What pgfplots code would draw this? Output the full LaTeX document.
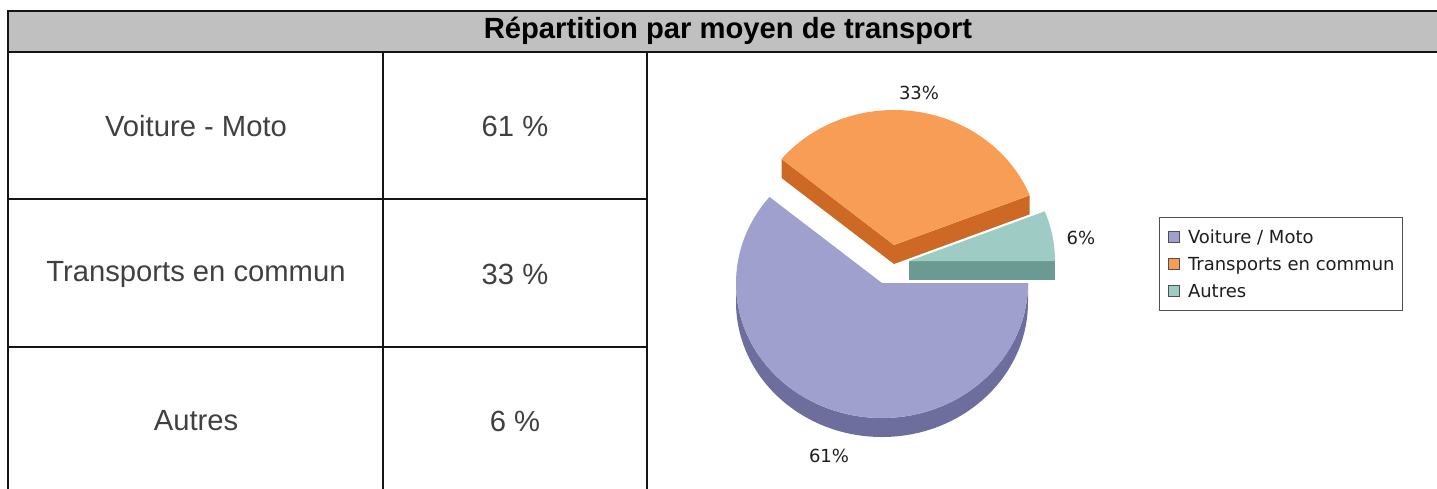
\documentclass[border=0pt]{standalone}
\usepackage{pgfplots}
\pgfplotsset{compat=1.18}
\usepackage{pgfplotstable}
\usepackage{fontspec}
\setmainfont{Liberation Sans}
\newfontfamily\piefont{DejaVu Sans}

\definecolor{titlegray}{RGB}{192,192,192}
\definecolor{rulecol}{RGB}{20,20,20}
\definecolor{celltext}{RGB}{64,64,64}
\definecolor{lavtop}{RGB}{160,160,206}
\definecolor{lavside}{RGB}{110,110,158}
\definecolor{orgtop}{RGB}{248,157,86}
\definecolor{orgside}{RGB}{205,105,37}
\definecolor{teatop}{RGB}{158,203,195}
\definecolor{teaside}{RGB}{107,154,147}
\definecolor{legline}{RGB}{80,80,80}
\definecolor{pietext}{RGB}{30,30,30}

% parts of the pie: value in %, explode offset (px), label position (px)
\pgfplotstableread{
label value dx dy lx ly
Voiture 61 0 0 829 456
Transports 33 12 -38 919 93
Autres 6 27 -22 1081 238
}\piedata

\pgfplotstablegetelem{0}{value}\of\piedata \pgfmathtruncatemacro\va{\pgfplotsretval}
\pgfplotstablegetelem{1}{value}\of\piedata \pgfmathtruncatemacro\vb{\pgfplotsretval}
\pgfplotstablegetelem{2}{value}\of\piedata \pgfmathtruncatemacro\vc{\pgfplotsretval}
\pgfplotstablegetelem{1}{dx}\of\piedata \pgfmathsetmacro\dxb{\pgfplotsretval}
\pgfplotstablegetelem{1}{dy}\of\piedata \pgfmathsetmacro\dyb{\pgfplotsretval}
\pgfplotstablegetelem{2}{dx}\of\piedata \pgfmathsetmacro\dxc{\pgfplotsretval}
\pgfplotstablegetelem{2}{dy}\of\piedata \pgfmathsetmacro\dyc{\pgfplotsretval}
\pgfplotstablegetelem{0}{lx}\of\piedata \pgfmathsetmacro\lxa{\pgfplotsretval}
\pgfplotstablegetelem{0}{ly}\of\piedata \pgfmathsetmacro\lya{\pgfplotsretval}
\pgfplotstablegetelem{1}{lx}\of\piedata \pgfmathsetmacro\lxb{\pgfplotsretval}
\pgfplotstablegetelem{1}{ly}\of\piedata \pgfmathsetmacro\lyb{\pgfplotsretval}
\pgfplotstablegetelem{2}{lx}\of\piedata \pgfmathsetmacro\lxc{\pgfplotsretval}
\pgfplotstablegetelem{2}{ly}\of\piedata \pgfmathsetmacro\lyc{\pgfplotsretval}
% angles, clockwise from east
\pgfmathsetmacro\aA{0}
\pgfmathsetmacro\aB{\aA-3.6*\va}
\pgfmathsetmacro\aC{\aB-3.6*\vb}
\pgfmathsetmacro\aD{\aC-3.6*\vc}
\def\cx{882}\def\cy{283}
\pgfmathsetmacro\cxb{\cx+\dxb}\pgfmathsetmacro\cyb{\cy+\dyb}
\pgfmathsetmacro\cxc{\cx+\dxc}\pgfmathsetmacro\cyc{\cy+\dyc}
\def\dep{9.5pt}
\tikzset{pie/.style={x radius=73pt, y radius=67.5pt}}

\begin{document}
\begin{tikzpicture}
\begin{axis}[
    at={(0,0)}, anchor=north west,
    scale only axis, width=718.5pt, height=244pt,
    xmin=0, xmax=1437, ymin=0, ymax=488, y dir=reverse,
    hide axis, clip=false,
    legend cell align=left,
    legend style={at={(axis cs:1159,217)}, anchor=north west,
        draw=legline, line width=0.5pt, fill=white,
        font=\piefont\fontsize{9}{10}\selectfont, text=pietext,
        inner xsep=4pt, inner ysep=6.3pt, row sep=7pt,
        nodes={inner sep=0pt, anchor=west, text height=6.6pt, text depth=0pt}},
    legend image code/.code={
        \draw[#1, draw=legline, line width=0.5pt] (0pt,-2.75pt) rectangle (5.5pt,2.75pt);
        \path (9.75pt,0pt);}
]
% table
\fill[titlegray] (axis cs:8,11) rectangle (axis cs:1445,52);
\draw[rulecol, line width=1pt] (axis cs:8,500) -- (axis cs:8,11) -- (axis cs:1445,11);
\draw[rulecol, line width=1pt] (axis cs:8,52) -- (axis cs:1445,52);
\draw[rulecol, line width=1pt] (axis cs:383,52) -- (axis cs:383,500);
\draw[rulecol, line width=1pt] (axis cs:647,52) -- (axis cs:647,500);
\draw[rulecol, line width=1pt] (axis cs:8,199) -- (axis cs:647,199);
\draw[rulecol, line width=1pt] (axis cs:8,347) -- (axis cs:647,347);
\node[font=\bfseries\fontsize{14.6}{17}\selectfont, text=black] at (axis cs:728,31) {Répartition par moyen de transport};
\node[font=\fontsize{14.6}{17}\selectfont, text=celltext] at (axis cs:196,126) {Voiture - Moto};
\node[font=\fontsize{14.6}{17}\selectfont, text=celltext] at (axis cs:196,274) {Transports en commun};
\node[font=\fontsize{14.6}{17}\selectfont, text=celltext] at (axis cs:196,421) {Autres};
\node[font=\fontsize{14.6}{17}\selectfont, text=celltext] at (axis cs:515,126) {\va\ \%};
\node[font=\fontsize{14.6}{17}\selectfont, text=celltext] at (axis cs:515,274) {\vb\ \%};
\node[font=\fontsize{14.6}{17}\selectfont, text=celltext] at (axis cs:515,421) {\vc\ \%};
% pie: Transports en commun (exploded)
\fill[orgside] (axis cs:\cxb,\cyb) -- ++(\aB:73pt and 67.5pt) -- ++(0,-\dep)
    -- ([yshift=-\dep]axis cs:\cxb,\cyb) -- ++(\aC:73pt and 67.5pt) -- ++(0,\dep) -- cycle;
\fill[orgtop] (axis cs:\cxb,\cyb) -- ++(\aB:73pt and 67.5pt)
    arc[pie, start angle=\aB, end angle=\aC] -- cycle;
% pie: Autres (exploded)
\fill[teaside] (axis cs:\cxc,\cyc) -- ++(\aD:73pt and 67.5pt) -- ++(0,-\dep)
    -- ([yshift=-\dep]axis cs:\cxc,\cyc) -- cycle;
\fill[teatop] (axis cs:\cxc,\cyc) -- ++(\aC:73pt and 67.5pt)
    arc[pie, start angle=\aC, end angle=\aD] -- cycle;
% pie: Voiture / Moto
\fill[lavside] (axis cs:\cx,\cy) ++(-180:73pt and 67.5pt)
    arc[pie, start angle=-180, end angle=\aA] -- ++(0,-\dep)
    arc[pie, start angle=\aA, end angle=-180] -- cycle;
\fill[lavtop] (axis cs:\cx,\cy) -- ++(\aA:73pt and 67.5pt)
    arc[pie, start angle=\aA, end angle=\aB] -- cycle;
% labels
\node[font=\piefont\fontsize{9}{10}\selectfont, text=pietext] at (axis cs:\lxa,\lya) {\va\%};
\node[font=\piefont\fontsize{9}{10}\selectfont, text=pietext] at (axis cs:\lxb,\lyb) {\vb\%};
\node[font=\piefont\fontsize{9}{10}\selectfont, text=pietext] at (axis cs:\lxc,\lyc) {\vc\%};
% legend
\addlegendimage{fill=lavtop}
\addlegendentry{Voiture / Moto}
\addlegendimage{fill=orgtop}
\addlegendentry{Transports en commun}
\addlegendimage{fill=teatop}
\addlegendentry{Autres}
\end{axis}
\pgfresetboundingbox
\useasboundingbox (0,0) rectangle (718.5pt,-244pt);
\end{tikzpicture}
\end{document}
